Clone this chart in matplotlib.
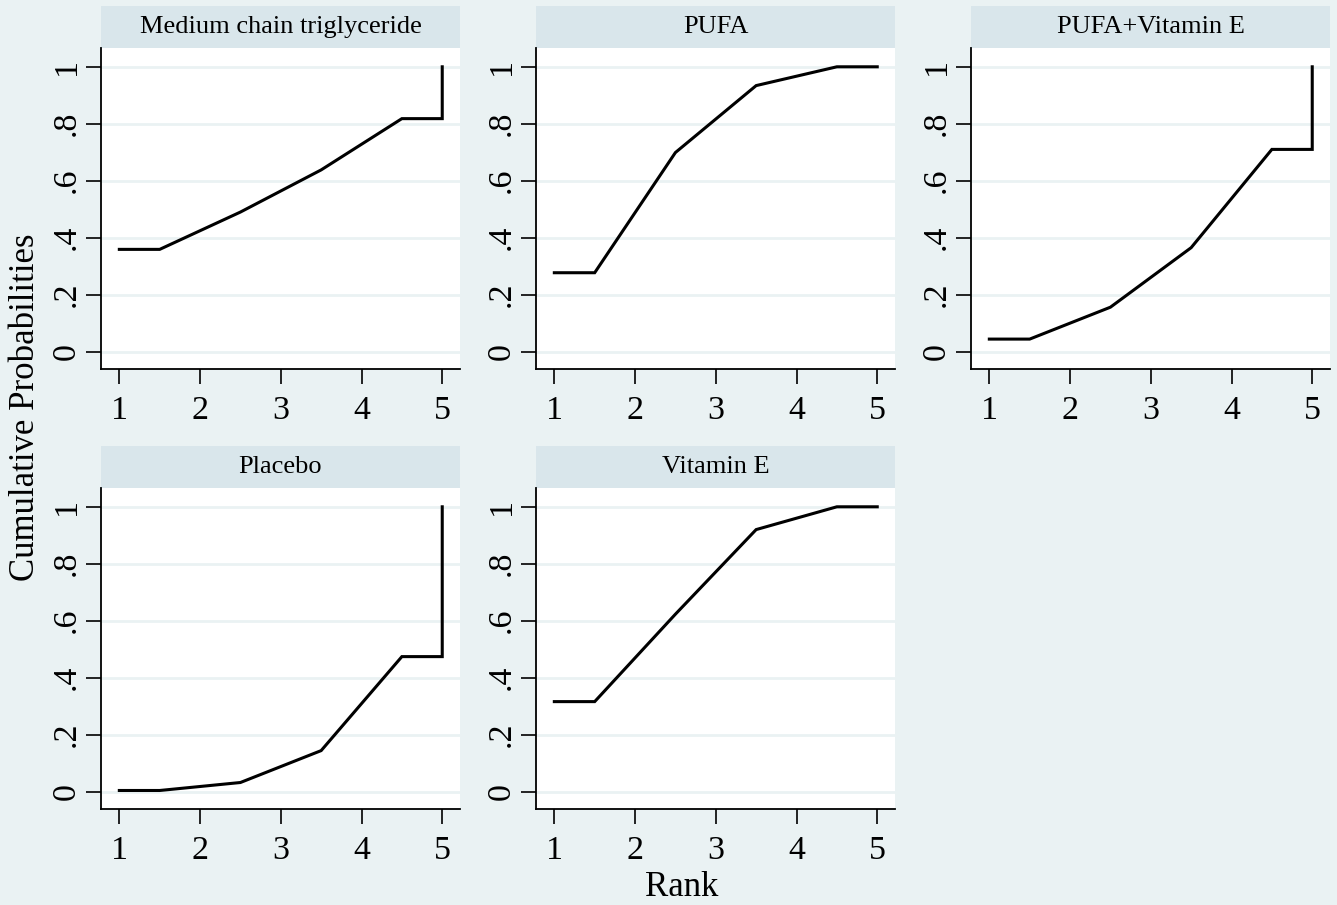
import matplotlib
matplotlib.use("Agg")
import matplotlib.pyplot as plt
from matplotlib.patches import Rectangle

plt.rcParams['font.family'] = ['Liberation Serif', 'DejaVu Serif']

treatments = ["Medium chain triglyceride", "PUFA", "PUFA+Vitamin E", "Placebo", "Vitamin E"]
ranks = [1, 2, 3, 4, 5]
cum_mct = [0.359, 0.490, 0.638, 0.818, 1.0]
cum_pufa = [0.277, 0.699, 0.934, 1.0, 1.0]
cum_pufa_vite = [0.044, 0.156, 0.365, 0.710, 1.0]
cum_placebo = [0.004, 0.032, 0.144, 0.474, 1.0]
cum_vite = [0.316, 0.623, 0.920, 1.0, 1.0]
series = [cum_mct, cum_pufa, cum_pufa_vite, cum_placebo, cum_vite]

yticks = [0, 0.2, 0.4, 0.6, 0.8, 1.0]
ytick_labels = ["0", ".2", ".4", ".6", ".8", "1"]

W, H = 1337, 905
fig = plt.figure(figsize=(W / 100, H / 100), dpi=100)
bg = "#EAF2F3"
fig.patch.set_facecolor(bg)

lefts = [101, 536, 971]
rows = [(48, 369), (488, 809)]
pw = 359
header_px = 42

for i, (name, cum) in enumerate(zip(treatments, series)):
    r, c = divmod(i, 3)
    top, bot = rows[r]
    ax = fig.add_axes([lefts[c] / W, 1 - bot / H, pw / W, (bot - top) / H])
    ax.set_facecolor("white")
    # path: flat over first half rank, then at rank midpoints, then final step at last rank
    xs = [ranks[0], ranks[0] + 0.5]
    ys = [cum[0], cum[0]]
    for k in range(1, len(ranks) - 1):
        xs.append(ranks[k] + 0.5)
        ys.append(cum[k])
    xs.append(ranks[-1])
    ys.append(cum[-2])
    xs.append(ranks[-1])
    ys.append(cum[-1])
    ax.plot(xs, ys, color="black", lw=2.2, solid_joinstyle="miter", zorder=3)
    ax.set_xlim(0.773, 5.22)
    ax.set_ylim(-0.061, 1.066)
    ax.set_yticks(yticks)
    ax.set_yticklabels(ytick_labels, rotation=90, va="center")
    ax.set_xticks(ranks)
    ax.set_xticklabels([str(v) for v in ranks])
    ax.tick_params(axis="both", labelsize=24.5, length=11, width=1.2, color="black")
    ax.tick_params(axis="y", pad=3)
    ax.tick_params(axis="x", pad=8)
    for yv in yticks:
        ax.axhline(yv, color=bg, lw=2, zorder=1)
    for s in ["top", "right"]:
        ax.spines[s].set_visible(False)
    for s in ["left", "bottom"]:
        ax.spines[s].set_linewidth(1.3)
        ax.spines[s].set_color("black")
    hfrac = header_px / (bot - top)
    ax.add_patch(Rectangle((0, 1), 1, hfrac, transform=ax.transAxes,
                           facecolor="#D9E6EB", edgecolor="none", clip_on=False, zorder=0))
    ax.text(0.5, 1 + hfrac / 2, name, transform=ax.transAxes, ha="center", va="center",
            fontsize=19)

fig.text(26 / W, 1 - 407 / H, "Cumulative Probabilities", rotation=90, ha="center",
         va="center", fontsize=25)
fig.text(682 / W, 1 - 887 / H, "Rank", ha="center", va="center", fontsize=25)

fig.savefig("out.png", dpi=100, facecolor=bg)
